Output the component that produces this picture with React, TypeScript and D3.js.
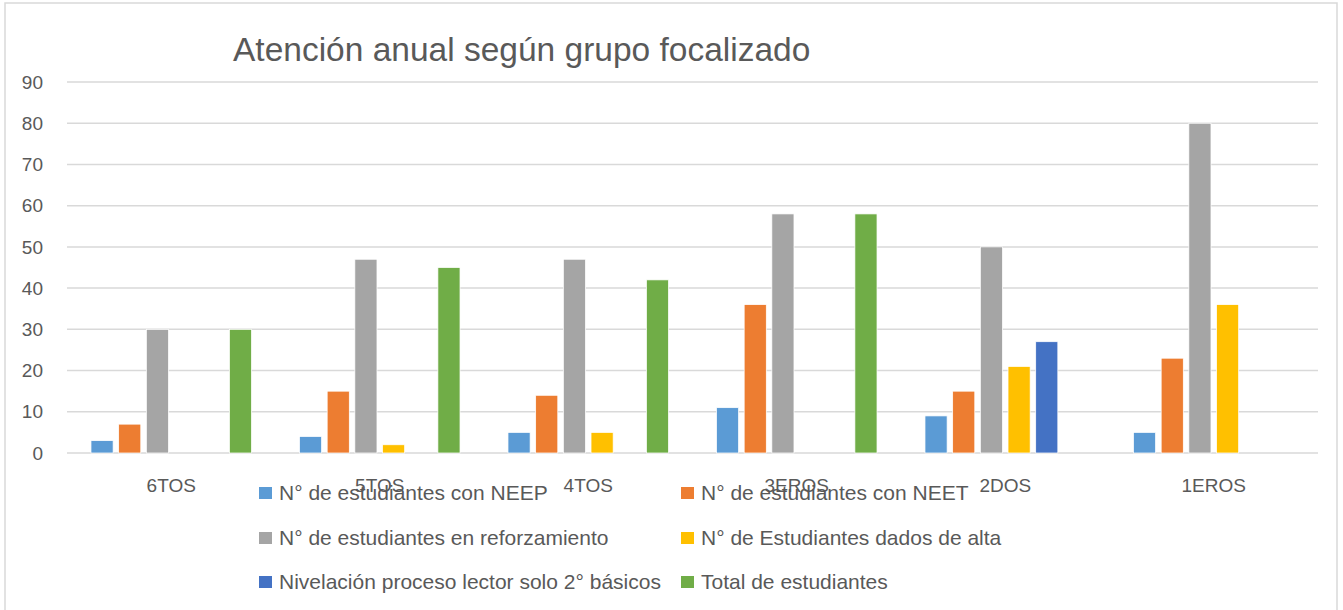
import * as React from 'react';
import * as d3 from 'd3';

// chart data
const categories = ['6TOS', '5TOS', '4TOS', '3EROS', '2DOS', '1EROS'];
const seriesNames = [
  'N° de estudiantes con NEEP',
  'N° de estudiantes con NEET',
  'N° de estudiantes en reforzamiento',
  'N° de Estudiantes dados de alta',
  'Nivelación proceso lector solo 2° básicos',
  'Total de estudiantes',
];
const neep = [3, 4, 5, 11, 9, 5];
const neet = [7, 15, 14, 36, 15, 23];
const reforzamiento = [30, 47, 47, 58, 50, 80];
const dadosDeAlta = [0, 2, 5, 0, 21, 36];
const nivelacion = [0, 0, 0, 0, 27, 0];
const total = [30, 45, 42, 58, 0, 0];
const yTicks = [0, 10, 20, 30, 40, 50, 60, 70, 80, 90];

const colors = ['#5B9BD5', '#ED7D31', '#A5A5A5', '#FFC000', '#4472C4', '#70AD47'];
const allSeries = [neep, neet, reforzamiento, dadosDeAlta, nivelacion, total];

const W = 1343;
const H = 610;
const plot = { left: 67, right: 1318, top: 82, bottom: 453 };
const font = "'Liberation Sans', Arial, sans-serif";
const textColor = '#595959';

export default function App() {
  const x = d3.scaleBand<string>()
    .domain(categories)
    .range([plot.left, plot.right])
    .paddingInner(0.23)
    .paddingOuter(0.115);
  const xInner = d3.scaleBand<number>()
    .domain(d3.range(seriesNames.length))
    .range([0, x.bandwidth()])
    .paddingInner(0.2);
  const y = d3.scaleLinear().domain([0, 90]).range([plot.bottom, plot.top]);

  // legend layout: two columns, three rows
  const legendCols = [259, 681];
  const legendRows = [493, 538, 582];

  return (
    <svg width={W} height={H} style={{ position: 'absolute', left: 0, top: 0, background: '#fff' }}
         fontFamily={font}>
      <rect x={5} y={3} width={1332} height={H + 10} fill="#fff" stroke="#d9d9d9" strokeWidth={1.5} />

      <text x={233} y={61} fontSize={33.5} fill={textColor}>Atención anual según grupo focalizado</text>

      {/* gridlines + y labels */}
      {yTicks.map(t => (
        <g key={t}>
          <line x1={plot.left} x2={plot.right} y1={y(t)} y2={y(t)} stroke="#d9d9d9" strokeWidth={1.5} />
          <text x={43} y={y(t)} dy="0.35em" textAnchor="end" fontSize={19} fill={textColor}>{t}</text>
        </g>
      ))}

      {/* bars */}
      {categories.map((c, ci) => (
        <g key={c} transform={`translate(${x(c)},0)`}>
          {allSeries.map((s, si) => s[ci] > 0 ? (
            <rect key={si}
                  x={xInner(si)}
                  y={y(s[ci])}
                  width={xInner.bandwidth()}
                  height={y(0) - y(s[ci])}
                  fill={colors[si]}
                  stroke="#fff"
                  strokeWidth={0.75} />
          ) : null)}
        </g>
      ))}

      {/* category labels */}
      {categories.map(c => (
        <text key={c} x={(x(c) as number) + x.bandwidth() / 2} y={492} textAnchor="middle"
              fontSize={19} fill={textColor}>{c}</text>
      ))}

      {/* legend */}
      {seriesNames.map((name, i) => {
        const lx = legendCols[i % 2];
        const ly = legendRows[Math.floor(i / 2)];
        return (
          <g key={name} transform={`translate(${lx},${ly})`}>
            <rect x={0} y={-6} width={13} height={12} fill={colors[i]} />
            <text x={20} y={7} fontSize={21} fill={textColor}>{name}</text>
          </g>
        );
      })}
    </svg>
  );
}
